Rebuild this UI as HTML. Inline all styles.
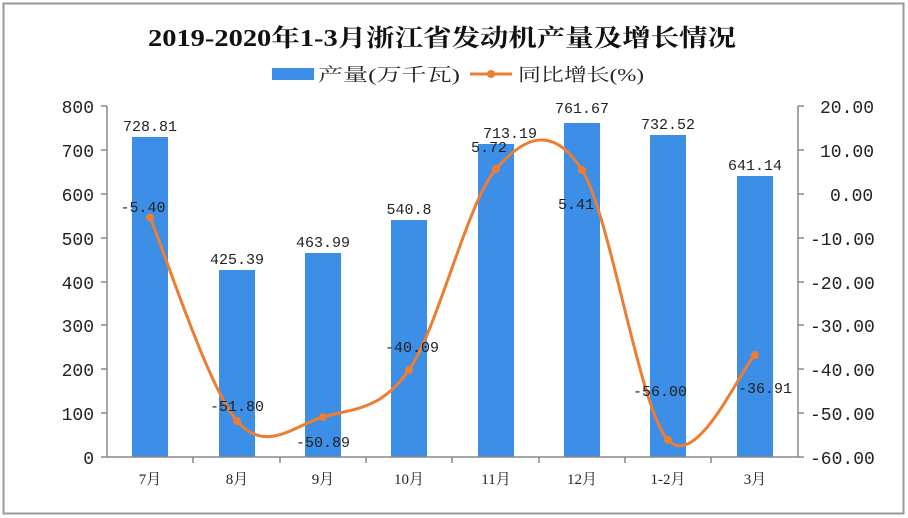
<!DOCTYPE html><html><head><meta charset="utf-8"><style>body{margin:0;background:#fff}svg{display:block}text{font-family:"Liberation Serif","Noto Serif CJK SC",serif}.m text{font-family:"Liberation Mono","Noto Sans CJK SC",monospace}</style></head><body>
<svg width="908" height="518" viewBox="0 0 908 518">
<rect x="3.5" y="3.5" width="900" height="510" fill="#fff" stroke="#999" stroke-width="2"/>
<text x="442" y="46" font-size="24" font-weight="bold" text-anchor="middle" fill="#111" textLength="588" lengthAdjust="spacingAndGlyphs">2019-2020年1-3月浙江省发动机产量及增长情况</text>
<rect x="272" y="68" width="42" height="12" fill="#3d8ee6"/>
<text x="318" y="81" font-size="18" fill="#222" textLength="142" lengthAdjust="spacingAndGlyphs">产量(万千瓦)</text>
<line x1="470" y1="74" x2="512" y2="74" stroke="#ed7d31" stroke-width="3"/><circle cx="491" cy="74" r="4" fill="#ed7d31"/>
<text x="518" y="81" font-size="18" fill="#222" textLength="126" lengthAdjust="spacingAndGlyphs">同比增长(%)</text>
<g fill="#3d8ee6">
<rect x="132" y="137" width="36" height="320"/><rect x="219" y="270" width="36" height="187"/><rect x="305" y="253" width="36" height="204"/><rect x="391" y="220" width="36" height="237"/><rect x="478" y="144" width="36" height="313"/><rect x="564" y="123" width="36" height="334"/><rect x="650" y="135" width="36" height="322"/><rect x="737" y="176" width="36" height="281"/>
</g>
<g stroke="#888" stroke-width="1.5" fill="none">
<line x1="107" y1="106" x2="107" y2="457"/><line x1="107" y1="457" x2="798" y2="457"/><line x1="798" y1="106" x2="798" y2="457"/>
<path d="M101 106h6M101 150h6M101 194h6M101 238h6M101 282h6M101 325h6M101 369h6M101 413h6M101 457h6M798 106h6M798 150h6M798 194h6M798 238h6M798 282h6M798 325h6M798 369h6M798 413h6M798 457h6M193 457v6M280 457v6M366 457v6M452 457v6M539 457v6M625 457v6M711 457v6"/>
</g>
<g class="m" font-size="18" fill="#222" text-anchor="end">
<text x="94" y="113">800</text><text x="94" y="157">700</text><text x="94" y="201">600</text><text x="94" y="245">500</text><text x="94" y="289">400</text><text x="94" y="332">300</text><text x="94" y="376">200</text><text x="94" y="420">100</text><text x="94" y="464">0</text>
</g>
<g class="m" font-size="18" fill="#222">
<text x="820" y="113">20.00</text><text x="820" y="157">10.00</text><text x="830" y="201">0.00</text><text x="810" y="245">-10.00</text><text x="810" y="289">-20.00</text><text x="810" y="332">-30.00</text><text x="810" y="376">-40.00</text><text x="810" y="420">-50.00</text><text x="810" y="464">-60.00</text>
</g>
<g font-size="15" fill="#222" text-anchor="middle">
<text x="150" y="484">7月</text><text x="237" y="484">8月</text><text x="323" y="484">9月</text><text x="409" y="484">10月</text><text x="496" y="484">11月</text><text x="582" y="484">12月</text><text x="668" y="484">1-2月</text><text x="755" y="484">3月</text>
</g>
<g class="m" font-size="15" fill="#222" text-anchor="middle">
<text x="150" y="131">728.81</text><text x="237" y="264">425.39</text><text x="323" y="247">463.99</text><text x="409" y="214">540.8</text><text x="510" y="138">713.19</text><text x="582" y="113">761.67</text><text x="668" y="129">732.52</text><text x="755" y="170">641.14</text>
</g>
<path d="M150 217.5C164.5 251.4 208.2 387.8 237 421C265.8 454.3 294.3 425.5 323 417C351.7 408.5 380.2 411.3 409 370C437.8 328.7 467.2 202.3 496 169C524.8 135.7 553.3 124.8 582 170C610.7 215.2 639.2 409.2 668 440C696.8 470.8 740.5 369.2 755 355" fill="none" stroke="#ed7d31" stroke-width="3"/>
<g fill="#ed7d31"><circle cx="150" cy="217.5" r="4"/><circle cx="237" cy="421" r="4"/><circle cx="323" cy="417" r="4"/><circle cx="409" cy="370" r="4"/><circle cx="496" cy="169" r="4"/><circle cx="582" cy="170" r="4"/><circle cx="668" cy="440" r="4"/><circle cx="755" cy="355" r="4"/></g>
<g class="m" font-size="15" fill="#222" text-anchor="middle">
<text x="143" y="212">-5.40</text><text x="237" y="411">-51.80</text><text x="323" y="447">-50.89</text><text x="412" y="352">-40.09</text><text x="489" y="152">5.72</text><text x="576" y="209">5.41</text><text x="660" y="396">-56.00</text><text x="765" y="393">-36.91</text>
</g>
</svg></body></html>
